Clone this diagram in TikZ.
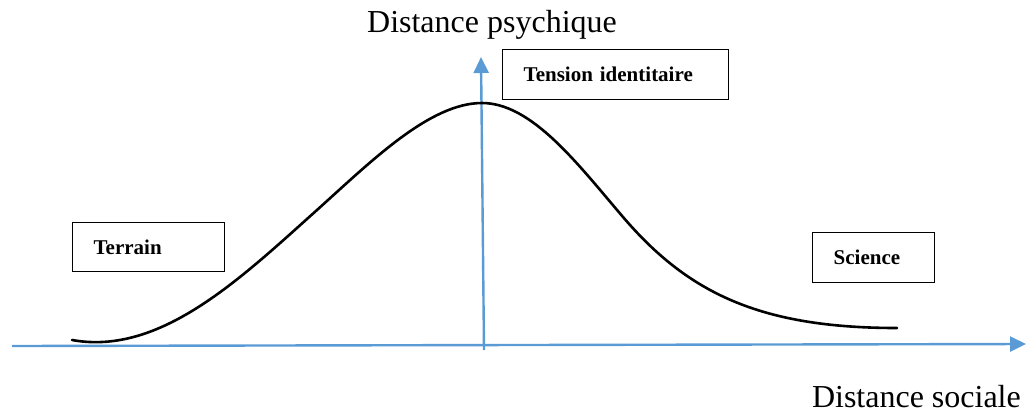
\documentclass[tikz,border=0pt]{standalone}
\usepackage{fontspec}
\setmainfont{Liberation Serif}
\usetikzlibrary{arrows.meta}
\definecolor{axisblue}{RGB}{91,155,213}

\begin{document}
\begin{tikzpicture}[x=1pt,y=-1pt,
  axe/.style={axisblue,line width=2.4pt,-{Triangle[length=16pt,width=15pt]}},
  boite/.style={draw,line width=1.3pt,anchor=north west,inner xsep=21pt,inner ysep=0pt,align=left,font=\fontsize{21}{25}\selectfont\bfseries},
  legende/.style={font=\fontsize{32}{38}\selectfont}]
\useasboundingbox(0,0)rectangle(1027,416);
\coordinate(xg)at(12,346);\coordinate(xd)at(1026,344);\coordinate(yb)at(484,350);\coordinate(yh)at(481,57);
\draw[axe](xg)--(xd);\draw[axe](yb)--(yh);
% courbe en cloche
\coordinate(g)at(72,340);\coordinate(m1)at(317,210);\coordinate(sommet)at(482,103);\coordinate(m2)at(623,217);\coordinate(d)at(897,328);
\draw[line width=2.6pt,line cap=round](g)..controls(160,356)and(240,279)..(m1)..controls(372,160.5)and(430,103)..(sommet)
  ..controls(532,103)and(578,164.4)..(m2)..controls(688,293)and(760,328)..(d);
\node[boite,text width=184pt,minimum height=50pt](tension)at(502,49){Tension identitaire};
\node[boite,text width=110pt,minimum height=49pt](terrain)at(72,222){Terrain};
\node[boite,text width=80pt,minimum height=50pt](science)at(812,232){Science};
\node[legende,anchor=base](psy)at(492,32){Distance psychique};
\node[legende,anchor=base east,inner sep=0pt](soc)at(1021,407){Distance sociale};
\end{tikzpicture}
\end{document}
